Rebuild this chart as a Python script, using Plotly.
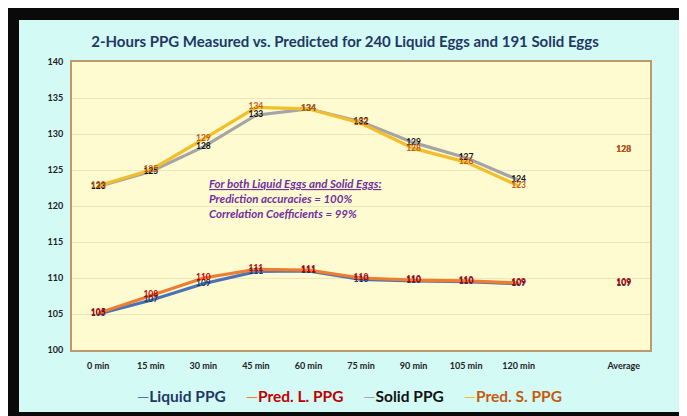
import plotly.graph_objects as go

# ---- data ----
time_labels = ["0 min", "15 min", "30 min", "45 min", "60 min", "75 min",
               "90 min", "105 min", "120 min"]
avg_label = "Average"

liquid_ppg = [105.0, 106.9, 109.2, 110.9, 111.0, 109.8, 109.6, 109.5, 109.2]
pred_l_ppg = [105.1, 107.6, 110.0, 111.2, 111.1, 110.0, 109.7, 109.6, 109.3]
solid_ppg = [122.7, 124.8, 128.2, 132.6, 133.5, 131.7, 128.8, 126.7, 123.6]
pred_s_ppg = [122.8, 125.0, 129.3, 133.7, 133.5, 131.5, 128.0, 126.1, 122.8]

liquid_avg = 109.2
pred_l_avg = 109.3
solid_avg = 127.8
pred_s_avg = 127.8

series_names = ["Liquid PPG", "Pred. L. PPG", "Solid PPG", "Pred. S. PPG"]
line_colors = ["#4A72B8", "#ED7D31", "#A5A5A5", "#F2BE2C"]
text_colors = ["#1F3864", "#C00000", "#111111", "#C55A11"]

title_text = "2-Hours PPG Measured vs. Predicted for 240 Liquid Eggs and 191 Solid Eggs"
note_lines = ["For both Liquid Eggs and Solid Eggs:",
              "Prediction accuracies = 100%",
              "Correlation Coefficients = 99%"]

# ---- geometry (page pixels minus the 8px page margin) ----
OFF = 8
W, H = 687, 416
ML, MT = 72 - OFF, 62 - OFF
MR = W - (650 - OFF)
MB = H - (350 - OFF)
PW, PH = W - ML - MR, H - MT - MB

x_idx = list(range(len(time_labels)))
avg_idx = len(time_labels) + 1
tickvals = x_idx + [avg_idx]
ticktext = time_labels + [avg_label]

values = [liquid_ppg, pred_l_ppg, solid_ppg, pred_s_ppg]
avgs = [liquid_avg, pred_l_avg, solid_avg, pred_s_avg]

FONT = "Lato, 'Open Sans', sans-serif"

fig = go.Figure()
for i in [0, 2, 1, 3]:
    fig.add_trace(go.Scatter(
        x=x_idx, y=values[i], mode="lines", name=series_names[i],
        line=dict(color=line_colors[i], width=3.2), showlegend=False,
        hoverinfo="skip"))
for i in [0, 2, 1, 3]:
    fig.add_trace(go.Scatter(
        x=x_idx + [avg_idx], y=values[i] + [avgs[i]], mode="text",
        texttemplate="%{y:.0f}", textposition="middle center",
        textfont=dict(family=FONT, size=8.5, color=text_colors[i], weight="bold"),
        showlegend=False, name=series_names[i]))


def px_x(p):  # page pixel -> paper fraction
    return (p - OFF - ML) / PW


def px_y(p):
    return (H - MB - (p - OFF)) / PH


shapes = [
    # dark photo frame around the slide
    dict(type="rect", xref="paper", yref="paper", x0=px_x(13), x1=px_x(686),
         y0=px_y(418), y1=px_y(14), fillcolor="rgba(0,0,0,0)",
         line=dict(color="#0a0a0a", width=12), layer="above"),
]

annotations = [
    dict(xref="paper", yref="paper", x=px_x(207), y=px_y(175), xanchor="left",
         yanchor="top", align="left", showarrow=False,
         text="<br>".join([f"<b><i><u>{note_lines[0]}</u></i></b>"] +
                          [f"<b><i>{t}</i></b>" for t in note_lines[1:]]),
         font=dict(family=FONT, size=11.5, color="#7030A0")),
]

sp = "&nbsp;" * 5
legend_text = sp.join(
    f"<span style='color:{line_colors[i]}'>—</span>"
    f"<span style='color:{text_colors[i]}'><b>{series_names[i]}</b></span>"
    for i in range(4))
annotations.append(dict(xref="paper", yref="paper", x=px_x(349), y=px_y(396),
                        xanchor="center", yanchor="middle", showarrow=False,
                        text=legend_text,
                        font=dict(family=FONT, size=15.5, color="#1F3864")))

fig.update_layout(
    width=W, height=H,
    margin=dict(l=ML, r=MR, t=MT, b=MB),
    paper_bgcolor="#D4FAF6",
    plot_bgcolor="#FFFBD0",
    title=dict(text=f"<b>{title_text}</b>", x=(345 - OFF) / W, xref="container",
               xanchor="center", y=1 - (42 - OFF) / H, yanchor="middle",
               font=dict(family=FONT, size=15, color="#1F3864")),
    xaxis=dict(range=[-0.5, avg_idx + 0.5], tickvals=tickvals, ticktext=ticktext,
               showgrid=False, zeroline=False, showline=True, mirror=True,
               linecolor="#BC9A6C", linewidth=2, ticks="", ticklabelstandoff=6,
               tickfont=dict(family=FONT, size=9, color="#222222", weight="bold")),
    yaxis=dict(range=[100, 140], dtick=5, showgrid=True, gridcolor="#ECE6BE",
               gridwidth=1, zeroline=False, showline=True, mirror=True,
               linecolor="#BC9A6C", linewidth=2, ticks="", ticklabelstandoff=5,
               tickfont=dict(family=FONT, size=9, color="#222222", weight="bold")),
    shapes=shapes,
    annotations=annotations,
    showlegend=False,
)

fig.write_html("out.html")
